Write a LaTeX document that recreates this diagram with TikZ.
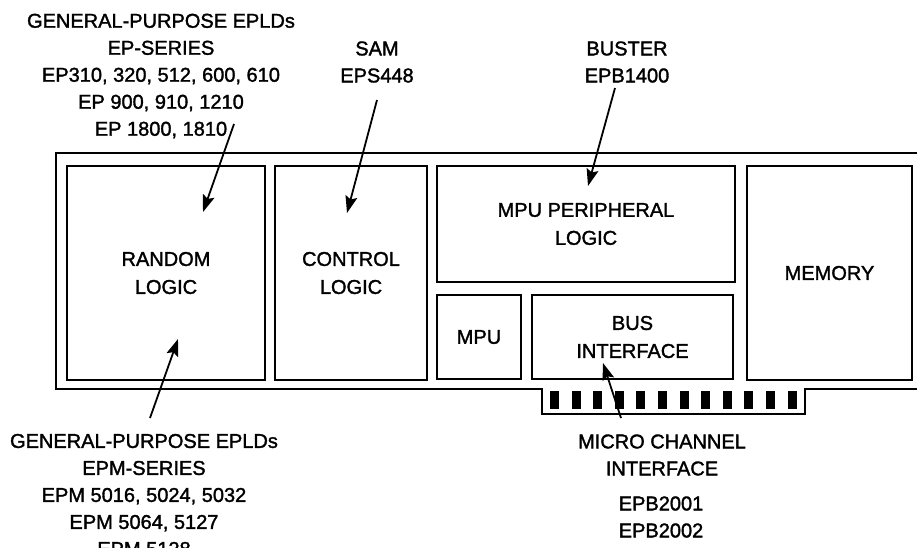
\documentclass[tikz,border=0pt]{standalone}
\usepackage{fontspec}
\setmainfont{Liberation Sans}[BoldFont=Liberation Sans, BoldFeatures={FakeBold=1.6}]
\usetikzlibrary{arrows.meta}

\begin{document}
\begin{tikzpicture}[x=1pt,y=-1pt,
    blk/.style={draw, line width=1.6pt, inner sep=0pt, align=center,
      font=\fontsize{20}{28}\selectfont\bfseries},
    lbl/.style={align=center, inner sep=0pt, font=\fontsize{20}{27}\selectfont\bfseries},
    pin/.style={line width=1.8pt, -{Stealth[length=17pt,width=12pt,inset=3pt]}}]
  \useasboundingbox (0,0) rectangle (917,547);

  % card with edge connector
  \draw[line width=2.8pt] (925,153) -- (56,153) -- (56,389) -- (542,389)
    -- (542,414) -- (805,414) -- (805,389) -- (925,389);
  \foreach \i in {0,...,11}
    \fill (550+21.6*\i,391) rectangle ++(9,18);

  % blocks on the card
  \node[blk, minimum width=198pt, minimum height=214pt] (random) at (166,273) {RANDOM\\LOGIC};
  \node[blk, minimum width=152pt, minimum height=214pt] (control) at (351,273) {CONTROL\\LOGIC};
  \node[blk, minimum width=298pt, minimum height=116pt] (periph) at (586,224) {MPU PERIPHERAL\\LOGIC};
  \node[blk, minimum width=84pt, minimum height=84pt] (mpu) at (479,337) {MPU};
  \node[blk, minimum width=201pt, minimum height=84pt] (bus) at (632.5,337) {BUS\\INTERFACE};
  \node[blk, minimum width=165pt, minimum height=214pt] (memory) at (829.5,273) {MEMORY};

  % device families
  \node[lbl] (epseries) at (161,76) {GENERAL-PURPOSE EPLDs\\EP-SERIES\\EP310, 320, 512, 600, 610\\EP 900, 910, 1210\\EP 1800, 1810};
  \node[lbl] (sam) at (377,62) {SAM\\EPS448};
  \node[lbl] (buster) at (627,62) {BUSTER\\EPB1400};
  \node[lbl] (epmseries) at (144,495) {GENERAL-PURPOSE EPLDs\\EPM-SERIES\\EPM 5016, 5024, 5032\\EPM 5064, 5127\\EPM 5128};
  \node[lbl] (mca) at (662,455) {MICRO CHANNEL\\INTERFACE};
  \node[lbl] (epb) at (661,517) {EPB2001\\EPB2002};

  \coordinate (eptail) at (234,124);
  \coordinate (samtail) at (377,100);
  \coordinate (bustertail) at (615,88);
  \coordinate (epmtail) at (150,418);
  \coordinate (mcatail) at (621,418);

  \draw[pin] (eptail) -- (203,212);
  \draw[pin] (samtail) -- (347,213);
  \draw[pin] (bustertail) -- (588,186);
  \draw[pin] (epmtail) -- (178,339);
  \draw[pin] (mcatail) -- (603,363);
\end{tikzpicture}
\end{document}
